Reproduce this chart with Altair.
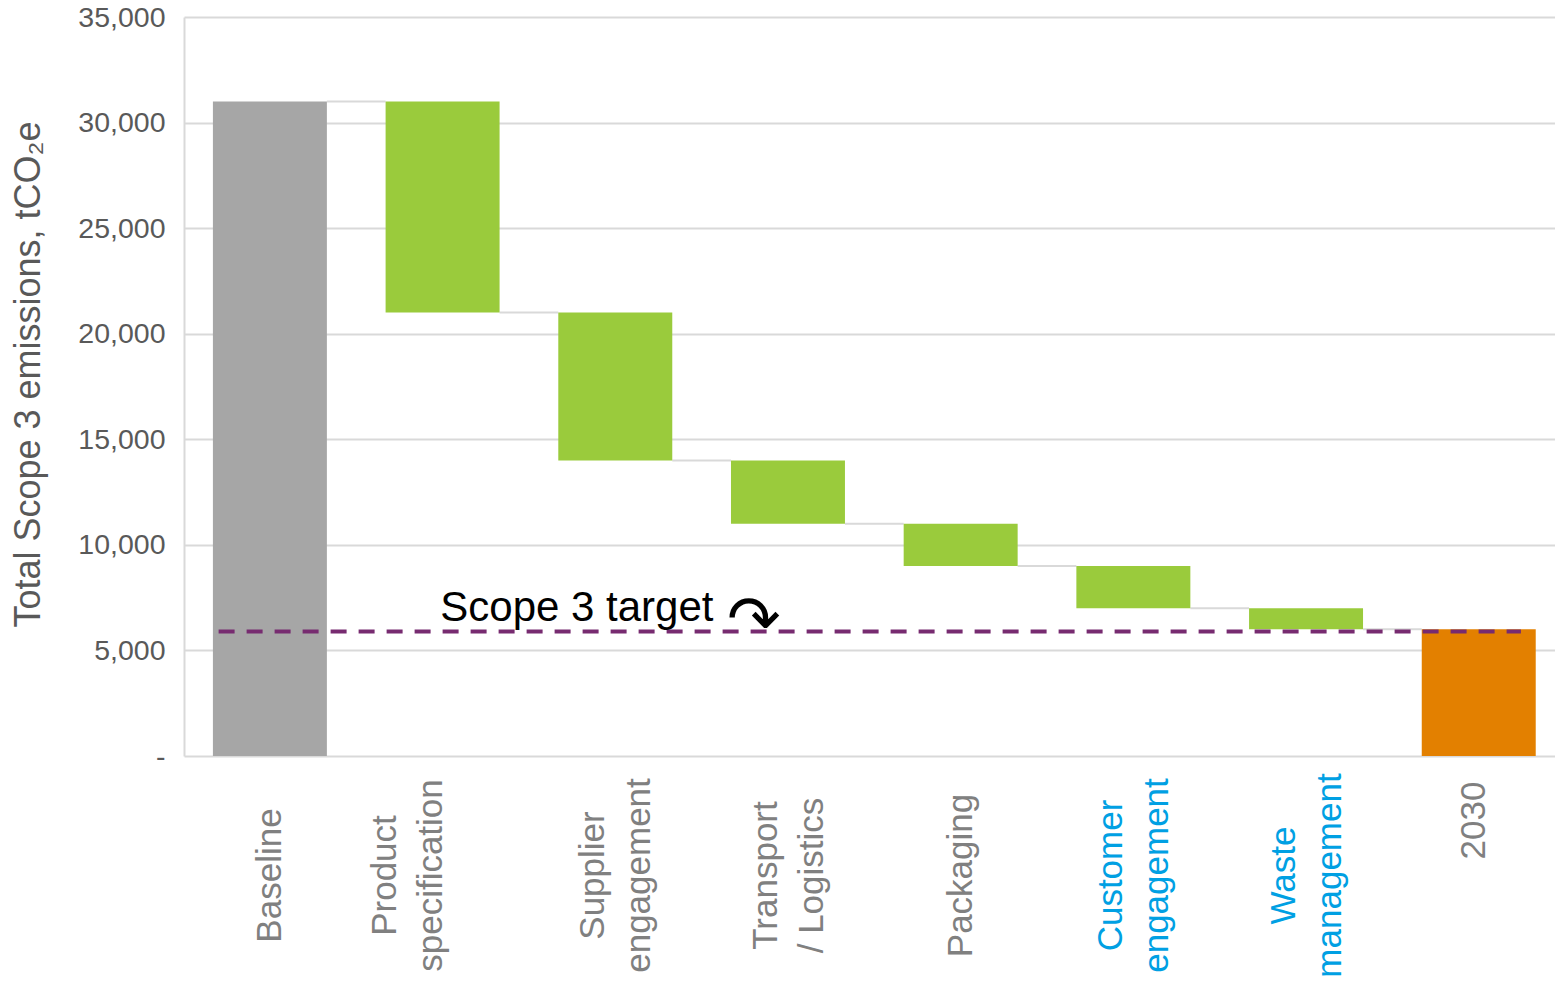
import altair as alt
import pandas as pd

# ---- data ----
categories = ["Baseline", "Product\nspecification", "Supplier\nengagement", "Transport\n/ Logistics",
              "Packaging", "Customer\nengagement", "Waste\nmanagement", "2030"]
bar_start = [0, 31000, 21000, 14000, 11000, 9000, 7000, 0]
bar_end = [31000, 21000, 14000, 11000, 9000, 7000, 6000, 6000]
bar_kind = ["base", "reduction", "reduction", "reduction", "reduction", "reduction", "reduction", "final"]
conn_level = [31000, 21000, 14000, 11000, 9000, 7000, 6000]
target_value = 5900
target_label = "Scope 3 target"
y_ticks = [0, 5000, 10000, 15000, 20000, 25000, 30000, 35000]

bars_df = pd.DataFrame({"cat": categories, "start": bar_start, "end": bar_end, "kind": bar_kind})
conn_df = pd.DataFrame({"cat": categories[:-1], "to": categories[1:], "start": conn_level})
target_df = pd.DataFrame({"cat": [categories[0]], "to": [categories[-1]], "start": [target_value]})
label_df = pd.DataFrame({"cat": [categories[1]], "start": [target_value], "text": [target_label]})
arrow_df = pd.DataFrame({"cat": [categories[3]], "start": [target_value], "text": ["\u21b7"]})

xscale = alt.Scale(domain=categories, paddingInner=0.34, paddingOuter=0.1395, align=0.6)
yscale = alt.Scale(domain=[0, 35000], nice=False)

x_axis = alt.Axis(
    title=None, domain=False, ticks=False, grid=False,
    labelAngle=270, labelAlign="center", labelBaseline="middle",
    labelFontSize=35, labelLineHeight=46, labelLimit=0,
    labelExpr="split(datum.label, '\\n')",
    labelColor=alt.condition("indexof(datum.value, 'Customer') >= 0 || indexof(datum.value, 'Waste') >= 0",
                             alt.value("#00a0e3"), alt.value("#808080")),
    labelPadding=alt.condition("datum.value === '2030'", alt.value(64), alt.value(119)),
    labelOffset={"condition": [
        {"test": "indexof(datum.value, 'Product') >= 0", "value": -58},
        {"test": "indexof(datum.value, '\\n') >= 0", "value": -22},
        {"test": "datum.value === '2030'", "value": -5},
    ], "value": 0},
)
y_axis = alt.Axis(
    title="Total Scope 3 emissions, tCO\u2082e", values=y_ticks,
    labelExpr="datum.value == 0 ? '-' : format(datum.value, ',')",
    labelFontSize=28.5, labelColor="#595959", labelPadding=19, ticks=False,
    domainColor="#d9d9d9", domainWidth=2, gridColor="#d9d9d9", gridWidth=2,
    titleFontSize=36, titleColor="#595959", titleFontWeight="normal", titlePadding=30,
    titleY=357,
)


def X(**kw):
    return alt.X("cat:N", sort=categories, scale=xscale, axis=x_axis, **kw)


def Y():
    return alt.Y("start:Q", scale=yscale, axis=y_axis)


bars = alt.Chart(bars_df).mark_bar().encode(
    x=X(),
    y=Y(),
    y2="end:Q",
    color=alt.Color("kind:N", scale=alt.Scale(domain=["base", "reduction", "final"],
                                              range=["#a6a6a6", "#9acb3c", "#e38000"]), legend=None),
)

conn = alt.Chart(conn_df).mark_rule(color="#d9d9d9", strokeWidth=2).encode(
    x=X(bandPosition=1),
    x2=alt.X2("to:N", bandPosition=0),
    y=Y(),
)

target = alt.Chart(target_df).mark_rule(color="#772b70", strokeWidth=4, strokeDash=[16, 12]).encode(
    x=X(bandPosition=0.05),
    x2=alt.X2("to:N", bandPosition=0.87),
    y=Y(),
)

label = alt.Chart(label_df).mark_text(align="left", baseline="alphabetic", dy=-10, fontSize=42,
                                      color="#000000").encode(
    x=X(bandPosition=0.48),
    y=Y(),
    text="text:N",
)

arrow = alt.Chart(arrow_df).mark_text(align="center", baseline="middle", dy=-9, fontSize=64,
                                      font="DejaVu Sans", color="#000000").encode(
    x=X(bandPosition=0.2),
    y=Y(),
    text="text:N",
)

chart = alt.layer(conn, bars, target, label, arrow).properties(
    width=1371, height=739,
    autosize=alt.AutoSizeParams(type="none"),
    padding={"left": 184, "top": 17, "right": 0, "bottom": 227},
).configure(font="Liberation Sans").configure_view(stroke=None)

chart.save("out.html", embed_options={"renderer": "svg", "actions": False})
